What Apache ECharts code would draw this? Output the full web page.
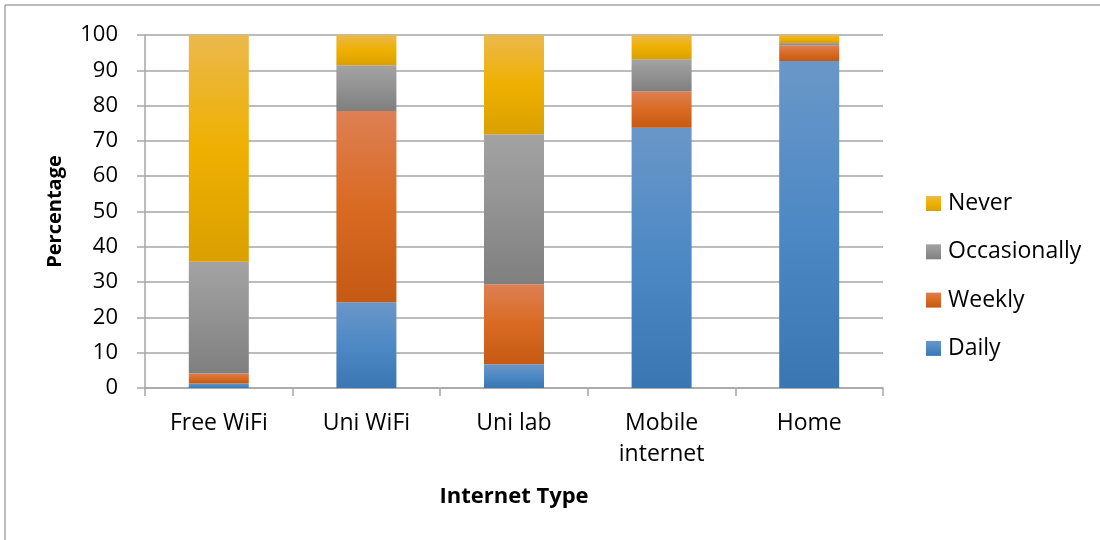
<!DOCTYPE html>
<html>
<head>
<meta charset="utf-8">
<style>
  html, body { margin: 0; padding: 0; background: #ffffff; }
  #chart { width: 1100px; height: 540px; }
</style>
<script src="https://cdn.jsdelivr.net/npm/echarts@6/dist/echarts.min.js"></script>
</head>
<body>
<div id="chart"></div>
<script>
// Internet access by type and how often it is used (percentage of respondents)
const categories = ['Free WiFi', 'Uni WiFi', 'Uni lab', 'Mobile\ninternet', 'Home'];
const daily        = [1.3, 24.3, 6.7, 73.7, 92.6];
const weekly       = [2.8, 54.2, 22.7, 10.4, 4.4];
const occasionally = [31.7, 12.9, 42.5, 9.0, 0.7];
const never        = [64.2, 8.6, 28.1, 6.9, 2.3];
const yTicks = [0, 10, 20, 30, 40, 50, 60, 70, 80, 90, 100];

const FONT = '"Open Sans", "Noto Sans", sans-serif';

function grad(top, mid, bottom) {
  return new echarts.graphic.LinearGradient(0, 0, 0, 1, [
    { offset: 0, color: top },
    { offset: 0.5, color: mid },
    { offset: 1, color: bottom }
  ]);
}

const palette = {
  Daily: ['#6a97c9', '#4d89c4', '#3a77b2'],
  Weekly: ['#de8054', '#d96a22', '#c55a14'],
  Occasionally: ['#a3a3a3', '#929292', '#7f7f7f'],
  Never: ['#ebb94c', '#efb000', '#daa000']
};

function bar(name, values) {
  const c = palette[name];
  return {
    name: name,
    type: 'bar',
    stack: 'total',
    barWidth: 60,
    data: values,
    itemStyle: { color: grad(c[0], c[1], c[2]) }
  };
}

const chart = echarts.init(document.getElementById('chart'), null, { renderer: 'canvas' });

chart.setOption({
  animation: false,
  backgroundColor: '#ffffff',
  graphic: [
    { type: 'line', shape: { x1: 5, y1: 5, x2: 1100, y2: 5 }, style: { stroke: '#a6a6a6', lineWidth: 1.5 } },
    { type: 'line', shape: { x1: 5, y1: 5, x2: 5, y2: 540 }, style: { stroke: '#a6a6a6', lineWidth: 1.5 } }
  ],
  grid: { left: 145, right: 217, top: 35, bottom: 152 },
  legend: {
    orient: 'vertical',
    left: 921,
    top: 187,
    itemWidth: 15,
    itemHeight: 15,
    itemGap: 25.3,
    icon: 'rect',
    data: ['Never', 'Occasionally', 'Weekly', 'Daily'],
    textStyle: { fontFamily: FONT, fontSize: 23, color: '#000', padding: [0, 0, 0, 2] }
  },
  xAxis: {
    type: 'category',
    data: categories,
    name: 'Internet Type',
    nameLocation: 'middle',
    nameGap: 98,
    nameTextStyle: { fontFamily: FONT, fontSize: 22, fontWeight: 'bold', color: '#000', verticalAlign: 'top' },
    axisLine: { lineStyle: { color: '#a6a6a6', width: 1.5 } },
    axisTick: { show: true, length: 8, alignWithLabel: false, lineStyle: { color: '#a6a6a6', width: 1.5 } },
    axisLabel: { fontFamily: FONT, fontSize: 23, color: '#000', margin: 20, lineHeight: 31, interval: 0 }
  },
  yAxis: {
    type: 'value',
    min: 0,
    max: 100,
    interval: 10,
    name: 'Percentage',
    nameLocation: 'middle',
    nameGap: 80,
    nameTextStyle: { fontFamily: FONT, fontSize: 20, fontWeight: 'bold', color: '#000' },
    axisLine: { show: true, lineStyle: { color: '#a6a6a6', width: 1.5 } },
    axisTick: { show: true, length: 8, lineStyle: { color: '#a6a6a6', width: 1.5 } },
    axisLabel: {
      fontFamily: FONT, fontSize: 22, color: '#000', margin: 27,
      formatter: v => (yTicks.includes(v) ? String(v) : '')
    },
    splitLine: { show: true, lineStyle: { color: '#a6a6a6', width: 1.5 } }
  },
  series: [
    bar('Daily', daily),
    bar('Weekly', weekly),
    bar('Occasionally', occasionally),
    bar('Never', never)
  ]
});
</script>
</body>
</html>
